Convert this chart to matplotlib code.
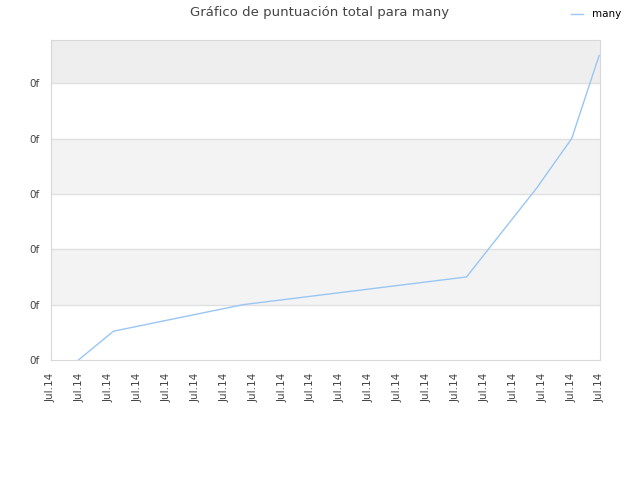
import matplotlib.pyplot as plt

# Data (x in tick units, y in gridline units)
x_pos = [0.95, 2.16, 6.65, 14.38, 16.8, 18.02, 18.97]
scores = [0.0, 0.52, 1.0, 1.5, 3.1, 4.0, 5.5]
x_labels = ['Jul.14'] * 20
y_labels = ['0f'] * 6

fig = plt.figure(figsize=(6.4, 4.8), dpi=100)
ax = fig.add_axes([51 / 640, 0.25, 549 / 640, 320 / 480])

y_top = 5.78
# alternating bands
ax.axhspan(1, 2, color='#f3f3f3', zorder=0, lw=0)
ax.axhspan(3, 4, color='#f3f3f3', zorder=0, lw=0)
ax.axhspan(5, y_top, color='#eeeeee', zorder=0, lw=0)
for v in range(1, 6):
    ax.axhline(v, color='#e0e0e0', lw=1, zorder=1)

ax.plot(x_pos, scores, color='#99c6f5', lw=1, label='many', zorder=2)

ax.set_xlim(0, 19)
ax.set_ylim(0, y_top)
ax.set_xticks(range(20))
ax.set_xticklabels(x_labels, rotation=90, fontsize=7.5, color='#444444')
ax.set_yticks(range(6))
ax.set_yticklabels(y_labels, fontsize=7.5, color='#444444')
ax.tick_params(axis='x', length=0, pad=9)
ax.tick_params(axis='y', length=0, pad=8)

for s in ax.spines.values():
    s.set_color('#d8d8d8')

fig.text(0.5, 0.973, 'Gráfico de puntuación total para many', ha='center', va='center',
         fontsize=9.5, color='#444444')
fig.legend(loc='upper right', bbox_to_anchor=(0.985, 1.0), frameon=False, fontsize=7.5,
           handlelength=1.2)

plt.savefig('out.png')
